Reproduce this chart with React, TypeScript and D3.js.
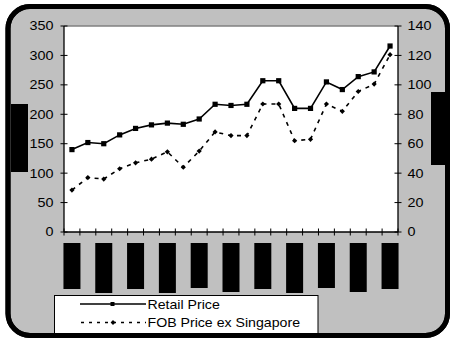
import React from "react";
import * as d3 from "d3";

const categories = Array.from({ length: 21 }, (_, i) => `P${i + 1}`);
const retailPrice = [140, 152, 150, 165, 176, 182, 185, 183, 192, 217, 215, 217, 257, 257, 210, 210, 255, 242, 264, 272, 316];
const fobPrice = [28.5, 37, 36, 43, 47, 49.5, 54.5, 44, 55, 68, 65.5, 65.5, 87, 87, 62, 63, 87, 82, 95.5, 100.5, 120.5];
const leftTicks = [0, 50, 100, 150, 200, 250, 300, 350];
const rightTicks = [0, 20, 40, 60, 80, 100, 120, 140];
// redaction blocks beneath every other category (bottom edge per block)
const labelBlockBottoms = [289, 293, 289, 293, 288, 292, 289, 293, 288, 292, 289];

const W = 453, H = 339;
const plot = { l: 64, r: 398, t: 26, b: 232 };
const FONT = "'Liberation Sans', Arial, sans-serif";

export default function App() {
  const x = d3.scaleBand<string>().domain(categories).range([plot.l, plot.r]);
  const yL = d3.scaleLinear().domain([0, 350]).range([plot.b, plot.t]);
  const yR = d3.scaleLinear().domain([0, 140]).range([plot.b, plot.t]);
  const cx = (c: string) => (x(c) as number) + x.bandwidth() / 2;

  const retailLine = d3.line<number>().x((_, i) => cx(categories[i])).y((d) => yL(d));
  const fobLine = d3.line<number>().x((_, i) => cx(categories[i])).y((d) => yR(d));

  const boundaries = d3.range(categories.length + 1).map((i) => plot.l + i * x.bandwidth());
  const diamond = (px: number, py: number, s = 2.6) =>
    `M${px},${py - s}L${px + s},${py}L${px},${py + s}L${px - s},${py}Z`;

  const tickStyle: React.CSSProperties = { fontFamily: FONT, fontSize: 12.5 };

  return (
    <svg width={W} height={H} style={{ position: "absolute", left: 0, top: 0, background: "#fff" }}>
      <rect x={8} y={6.5} width={439.5} height={329} rx={22} ry={22} fill="#c0c0c0" stroke="#000" strokeWidth={5} />
      <rect x={plot.l} y={plot.t} width={plot.r - plot.l} height={plot.b - plot.t} fill="#fff" />
      <line x1={plot.l} x2={plot.r} y1={plot.t} y2={plot.t} stroke="#808080" strokeWidth={1.5} />

      {/* axes */}
      <line x1={plot.l} x2={plot.l} y1={plot.t} y2={plot.b} stroke="#000" strokeWidth={1.3} />
      <line x1={plot.r} x2={plot.r} y1={plot.t} y2={plot.b} stroke="#000" strokeWidth={1.3} />
      <line x1={plot.l} x2={plot.r} y1={plot.b} y2={plot.b} stroke="#000" strokeWidth={1.3} />

      {leftTicks.map((t) => (
        <g key={"l" + t}>
          <line x1={plot.l - 3.5} x2={plot.l + 3.5} y1={yL(t)} y2={yL(t)} stroke="#000" strokeWidth={1} />
          <text x={53.5} y={yL(t)} dy="0.36em" textAnchor="end" style={tickStyle} transform={`translate(53.5,0) scale(1.15,1) translate(-53.5,0)`}>
            {t}
          </text>
        </g>
      ))}
      {rightTicks.map((t) => (
        <g key={"r" + t}>
          <line x1={plot.r - 3.5} x2={plot.r + 3.5} y1={yR(t)} y2={yR(t)} stroke="#000" strokeWidth={1} />
          <text x={407.5} y={yR(t)} dy="0.36em" textAnchor="start" style={tickStyle} transform={`translate(407.5,0) scale(1.15,1) translate(-407.5,0)`}>
            {t}
          </text>
        </g>
      ))}
      {boundaries.map((bx, i) => (
        <line key={"x" + i} x1={bx} x2={bx} y1={plot.b - 3.5} y2={plot.b + 3.5} stroke="#000" strokeWidth={1} />
      ))}

      {/* redacted category labels */}
      {labelBlockBottoms.map((bottom, k) => {
        const c = categories[k * 2];
        return <rect key={"blk" + k} x={cx(c) - 8.5} y={243} width={17} height={bottom - 243} fill="#000" />;
      })}
      {/* redacted axis titles */}
      <rect x={11} y={104} width={17} height={68} fill="#000" />
      <rect x={431} y={92} width={17} height={73} fill="#000" />

      {/* series */}
      <path d={retailLine(retailPrice) || ""} fill="none" stroke="#000" strokeWidth={1.6} />
      {retailPrice.map((v, i) => (
        <rect key={"rp" + i} x={cx(categories[i]) - 2.6} y={yL(v) - 2.6} width={5.2} height={5.2} fill="#000" />
      ))}
      <path d={fobLine(fobPrice) || ""} fill="none" stroke="#000" strokeWidth={1.6} strokeDasharray="4,5" />
      {fobPrice.map((v, i) => (
        <path key={"fp" + i} d={diamond(cx(categories[i]), yR(v))} fill="#000" />
      ))}

      {/* legend */}
      <rect x={54.5} y={295.5} width={263.5} height={38} fill="#fff" stroke="#000" strokeWidth={1} />
      <line x1={80} x2={146} y1={304} y2={304} stroke="#000" strokeWidth={1.6} />
      <rect x={110.5} y={302} width={4} height={4} fill="#000" />
      <text x={147.5} y={309} style={{ fontFamily: FONT, fontSize: 12 }} transform="translate(147.5,0) scale(1.18,1) translate(-147.5,0)">
        Retail Price
      </text>
      <line x1={81} x2={146} y1={322.5} y2={322.5} stroke="#000" strokeWidth={1.6} strokeDasharray="3,5" />
      <path d={diamond(113, 322.5, 2.4)} fill="#000" />
      <text x={147.5} y={327.5} style={{ fontFamily: FONT, fontSize: 12 }} transform="translate(147.5,0) scale(1.18,1) translate(-147.5,0)">
        FOB Price ex Singapore
      </text>
      {/* re-stroke frame edge over legend */}
      <rect x={8} y={6.5} width={439.5} height={329} rx={22} ry={22} fill="none" stroke="#000" strokeWidth={5} />
    </svg>
  );
}
